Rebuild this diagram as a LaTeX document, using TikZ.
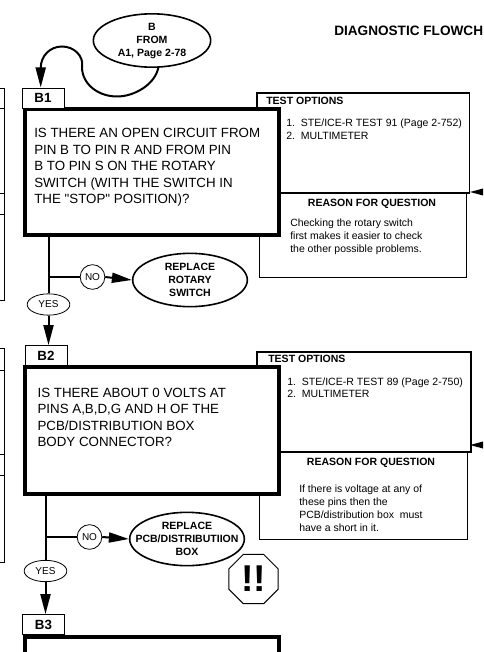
\documentclass[tikz,border=0pt]{standalone}
\usepackage{fontspec}
\setmainfont{Liberation Sans}
\newfontfamily\plainf{Liberation Sans}
\usetikzlibrary{shapes.geometric,arrows.meta}
\tikzset{
  px/.style={x=0.75pt,y=-0.75pt},
  qbox/.style={draw,line width=3pt,inner sep=0pt},
  tagbox/.style={draw,line width=0.6pt,fill=white,font=\fontsize{10}{11}\selectfont\bfseries,minimum width=31.5pt,minimum height=15pt,inner sep=0pt},
  flow/.style={line width=1.5pt},
  arr/.style={flow,-{Triangle[length=15pt,width=7.5pt]}},
  term/.style={ellipse,draw,line width=1.2pt,fill=white,align=center,font=\fontsize{7.9}{9.75}\selectfont\bfseries,inner sep=0pt,minimum width=86pt,minimum height=40pt},
  yesno/.style={ellipse,draw,line width=0.6pt,fill=white,font=\fontsize{7.5}{8}\selectfont,inner sep=0pt,minimum width=32pt,minimum height=16pt},
  nocirc/.style={circle,draw,line width=0.6pt,fill=white,minimum size=18.5pt,inner sep=0pt,font=\fontsize{7.5}{8}\selectfont},
  qtext/.style={anchor=north west,align=left,inner sep=0pt,font=\fontsize{10}{12.4}\selectfont},
  small/.style={anchor=north west,align=left,inner sep=0pt,font=\fontsize{7.85}{9.75}\selectfont},
  opts/.style={anchor=north west,align=left,inner sep=0pt,font=\fontsize{7.9}{9.2}\selectfont},
  head/.style={inner sep=0pt,font=\fontsize{7.9}{9}\selectfont\bfseries},
  thickrule/.style={line width=1pt},
  thinrule/.style={line width=0.6pt},
}
\begin{document}
\begin{tikzpicture}[px]
\useasboundingbox (0,0) rectangle (483,652);
\begin{scope}
\clip (0,0) rectangle (483,652);
% left fragments
\draw[thinrule] (0,88)--(4,88)--(4,300.5)--(0,300.5);
\draw[thinrule] (0,108.5)--(4,108.5) (0,193)--(4,193) (0,214)--(4,214);
\draw[thinrule] (0,348.5)--(4,348.5)--(4,562)--(0,562);
\draw[thinrule] (0,370)--(4,370) (0,454)--(4,454) (0,475.5)--(4,475.5);
\node[anchor=west,inner sep=0pt,font=\fontsize{10.2}{11}\selectfont\bfseries] (title) at (334,31) {DIAGNOSTIC FLOWCH};

% B1 right panels
\draw[line width=0.7pt,fill=white] (259.5,193) rectangle (466,277);
\draw[thickrule] (257,110)--(257,93)--(469.5,93)--(469.5,193)--(270,193);
\node[head,anchor=west] (to1) at (266,100.5) {TEST OPTIONS};
\node[opts] (ol1) at (286,119) {1.\ \ STE/ICE-R TEST 91 (Page 2-752)\\2.\ \ MULTIMETER};
\node[head] (r1) at (372,203.5) {REASON FOR QUESTION};
\node[small] (rt1) at (290,219) {Checking the rotary switch\\first makes it easier to check\\the other possible problems.};
\coordinate (a1) at (470,192);
\fill (a1) -- (483,188.5) -- (483,195.5) -- cycle;

% B2 right panels
\draw[line width=0.7pt,fill=white] (259.5,452) rectangle (467,539);
\draw[thickrule] (257,369)--(257,352)--(471,352)--(471,452)--(270,452);
\node[head,anchor=west] (to2) at (268,359) {TEST OPTIONS};
\node[opts] (ol2) at (287,377.5) {1.\ \ STE/ICE-R TEST 89 (Page 2-750)\\2.\ \ MULTIMETER};
\node[head] (r2) at (371,463) {REASON FOR QUESTION};
\node[small] (rt2) at (299,485) {If there is voltage at any of\\these pins then the\\PCB/distribution box\ \ must\\have a short in it.};
\coordinate (a2) at (470,445);
\fill (a2) -- (483,441.5) -- (483,448.5) -- cycle;

% question boxes
\draw[qbox,fill=white] (24.5,109) rectangle (278.5,235);
\node[qtext] (q1) at (34,128) {IS THERE AN OPEN CIRCUIT FROM\\PIN B TO PIN R AND FROM PIN\\B TO PIN S ON THE ROTARY\\SWITCH (WITH THE SWITCH IN\\THE {\plainf "STOP"} POSITION)?};
\draw[qbox,fill=white] (24.5,367) rectangle (278.5,494);
\node[qtext] (q2) at (37.3,387.5) {IS THERE ABOUT 0 VOLTS AT\\PINS A,B,D,G AND H OF THE\\PCB/DISTRIBUTION BOX\\BODY CONNECTOR?};
\draw[qbox,fill=white] (24.5,637) rectangle (278.5,670);

% tags
\node[tagbox] (b1) at (43,98) {B1};
\node[tagbox] (b2) at (46,355.5) {B2};
\node[tagbox] (b3) at (43.5,624.5) {B3};

% terminators
\node[term,minimum width=88pt] (from) at (152,40.5) {\makebox[0pt]{B}\\\makebox[0pt]{FROM}\\\makebox[0pt]{A1, Page 2-78}};
\node[term] (rep1) at (190,280) {\makebox[0pt]{REPLACE}\\\makebox[0pt]{ROTARY}\\\makebox[0pt]{SWITCH}};
\node[term] (rep2) at (187,539) {\makebox[0pt]{REPLACE}\\\makebox[0pt]{PCB/DISTRIBUTIION}\\\makebox[0pt]{BOX}};
\node[regular polygon,regular polygon sides=8,draw,line width=0.7pt,fill=white,minimum size=40pt,inner sep=0pt] (warn) at (253.5,579) {};
\node[inner sep=0pt,font=\fontsize{28}{28}\selectfont\bfseries] (bang) at (253.5,579) {!!};

% flow 1
\coordinate (s1) at (48.5,236.5);
\coordinate (j1) at (48.5,277);
\node[yesno] (y1) at (48.5,304.5) {YES};
\node[nocirc] (n1) at (92.5,277) {NO};
\draw[flow] (s1) -- (y1.north);
\draw[flow] (j1) -- (n1.west);
\draw[arr] (n1.east) -- (rep1.west);
\draw[arr] (y1.south) -- (b2.north -| y1.south);

% flow 2
\coordinate (s2) at (45.5,495);
\coordinate (j2) at (45.5,537);
\node[yesno] (y2) at (45.5,571) {YES};
\node[nocirc] (n2) at (89.5,537) {NO};
\draw[flow] (s2) -- (y2.north);
\draw[flow] (j2) -- (n2.west);
\draw[arr] (n2.east) -- (rep2.west);
\draw[arr] (y2.south) -- (b3.north -| y2.south);

% curve from start
\coordinate (c1) at (82,67);
\coordinate (c2) at (40.7,87.5);
\draw[flow] (from.-77) .. controls (155,84) and (135,96.5) .. (117,96.5) .. controls (98,96.5) and (82,84) .. (c1);
\draw[arr] (c1) .. controls (84,56) and (74,46.5) .. (62,46.5) .. controls (50,46.5) and (40.7,56) .. (c2);
\end{scope}
\end{tikzpicture}
\end{document}
